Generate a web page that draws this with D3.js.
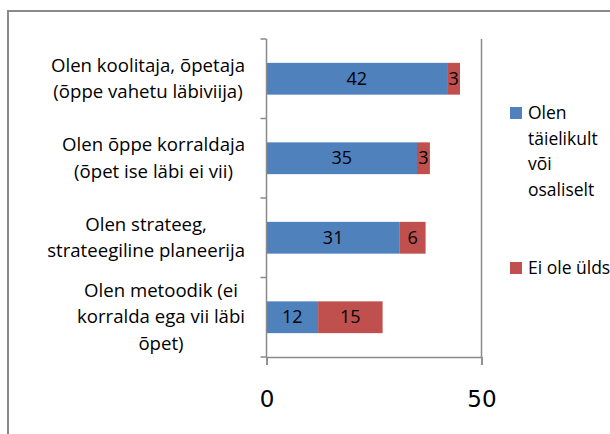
<!DOCTYPE html>
<html>
<head>
<meta charset="utf-8">
<script src="https://cdnjs.cloudflare.com/ajax/libs/d3/7.8.5/d3.min.js"></script>
<style>
  body { margin: 0; background: #fff; }
  svg text { font-family: "Open Sans", Lato, sans-serif; }
  svg text.num { font-family: "DejaVu Sans", sans-serif; }
</style>
</head>
<body>
<div id="chart"></div>
<script>
// data
var categories = [
  ["Olen koolitaja, õpetaja", "(õppe vahetu läbiviija)"],
  ["Olen õppe korraldaja", "(õpet ise läbi ei vii)"],
  ["Olen strateeg,", "strateegiline planeerija"],
  ["Olen metoodik (ei", "korralda ega vii läbi", "õpet)"]
];
var seriesNames = [["Olen", "täielikult", "või", "osaliselt"], ["Ei ole üldse"]];
var fullyOrPartly = [42, 35, 31, 12];
var notAtAll = [3, 3, 6, 15];
var xTicks = [0, 50];
var colors = ["#4f81bd", "#c0504d"];

var W = 610, H = 434;
var svg = d3.select("#chart").append("svg")
  .attr("width", W).attr("height", H);

// chart area border (runs off the right and bottom)
svg.append("rect")
  .attr("x", 8).attr("y", 11)
  .attr("width", 700).attr("height", 500)
  .attr("fill", "none")
  .attr("stroke", "#8a8a8a")
  .attr("stroke-width", 2);

var x = d3.scaleLinear().domain([0, 50]).range([266.5, 481.5]);
var y = d3.scaleBand().domain(d3.range(categories.length))
  .range([39, 357]).paddingInner(0.6).paddingOuter(0.3);
var step = y.step();

var rows = categories.map(function(c, i) {
  return { i: i, a: fullyOrPartly[i], b: notAtAll[i] };
});

// gridline at 50
svg.append("line")
  .attr("x1", x(50)).attr("x2", x(50))
  .attr("y1", 39).attr("y2", 357)
  .attr("stroke", "#8a8a8a").attr("stroke-width", 1.5);

// bars
var g = svg.append("g");
g.selectAll("rect.a").data(rows).enter().append("rect")
  .attr("x", x(0))
  .attr("y", function(d) { return y(d.i); })
  .attr("width", function(d) { return x(d.a) - x(0); })
  .attr("height", y.bandwidth())
  .attr("fill", colors[0]);
g.selectAll("rect.b").data(rows).enter().append("rect")
  .attr("x", function(d) { return x(d.a); })
  .attr("y", function(d) { return y(d.i); })
  .attr("width", function(d) { return x(d.a + d.b) - x(d.a); })
  .attr("height", y.bandwidth())
  .attr("fill", colors[1]);

// value labels
g.selectAll("text.a").data(rows).enter().append("text")
  .attr("x", function(d) { return (x(0) + x(d.a)) / 2; })
  .attr("y", function(d) { return y(d.i) + y.bandwidth() / 2 + 6; })
  .attr("text-anchor", "middle")
  .attr("font-size", "18px")
  .text(function(d) { return d.a; });
g.selectAll("text.b").data(rows).enter().append("text")
  .attr("x", function(d) { return (x(d.a) + x(d.a + d.b)) / 2; })
  .attr("y", function(d) { return y(d.i) + y.bandwidth() / 2 + 6; })
  .attr("text-anchor", "middle")
  .attr("font-size", "18px")
  .text(function(d) { return d.b; });

// category axis
var axisColor = "#8a8a8a";
svg.append("line")
  .attr("x1", x(0)).attr("x2", x(0)).attr("y1", 39).attr("y2", 357)
  .attr("stroke", axisColor).attr("stroke-width", 1.5);
d3.range(categories.length + 1).forEach(function(k) {
  svg.append("line")
    .attr("x1", x(0) - 6).attr("x2", x(0))
    .attr("y1", 39 + k * step).attr("y2", 39 + k * step)
    .attr("stroke", axisColor).attr("stroke-width", 1.5);
});

// value axis
var xAxis = svg.append("g")
  .attr("transform", "translate(0,357)")
  .call(d3.axisBottom(x).tickValues(xTicks).tickSize(8).tickPadding(26).tickFormat(d3.format("d")));
xAxis.select(".domain").attr("stroke", axisColor).attr("stroke-width", 1.5);
xAxis.selectAll(".tick line").attr("stroke", axisColor).attr("stroke-width", 1.5);
xAxis.selectAll(".tick text")
  .attr("class", "num")
  .attr("font-size", "23px")
  .attr("fill", "#000");

// category labels
var lineH = 26.5;
var labels = svg.append("g").attr("font-size", "18.6px");
categories.forEach(function(lines, i) {
  var t = labels.append("text").attr("text-anchor", "middle");
  var cy = y(i) + y.bandwidth() / 2;
  var top = cy - (lines.length - 1) * lineH / 2 + 6;
  lines.forEach(function(l, j) {
    t.append("tspan").attr("y", top + j * lineH).text(l);
  });
  // block right edge at 245, each line centred in the block
  var maxW = 0;
  t.selectAll("tspan").each(function() { maxW = Math.max(maxW, this.getComputedTextLength()); });
  t.selectAll("tspan").attr("x", 245 - maxW / 2);
});

// legend
var legend = svg.append("g").attr("font-size", "17.5px");
var legendY = [107, 262];
seriesNames.forEach(function(lines, i) {
  legend.append("rect")
    .attr("x", 510).attr("y", legendY[i])
    .attr("width", 12).attr("height", 12)
    .attr("fill", colors[i]);
  lines.forEach(function(l, j) {
    legend.append("text")
      .attr("x", 528).attr("y", legendY[i] + 12 + j * 25.5)
      .text(l);
  });
});
</script>
</body>
</html>
